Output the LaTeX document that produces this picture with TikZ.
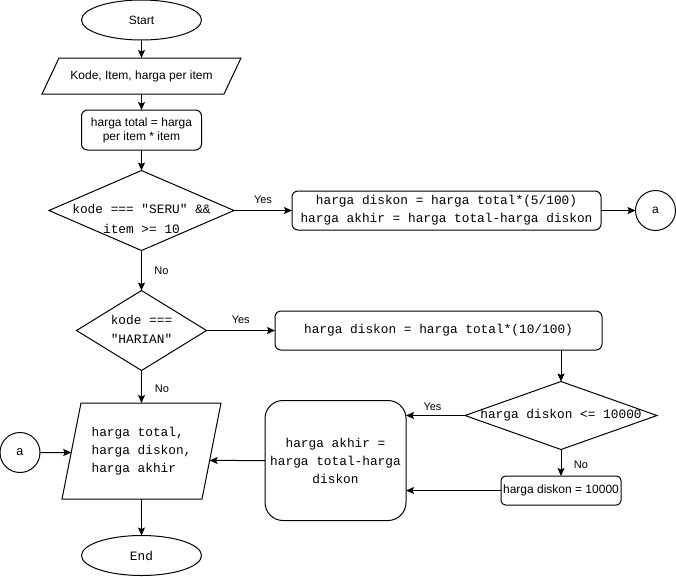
\documentclass[tikz,border=0pt]{standalone}
\usepackage{fontspec}
\setmainfont{Liberation Sans}
\newfontfamily\codefont{Liberation Mono}
\usetikzlibrary{shapes.geometric,arrows.meta,calc}

% parallelogram drawn around a (borderless) rectangle node; #2 = half of the slant
\newcommand\slantoutline[2]{%
  \coordinate (#1-bl) at ($(#1.south west)+(-#2,0)$);
  \coordinate (#1-tl) at ($(#1.north west)+(#2,0)$);
  \coordinate (#1-tr) at ($(#1.north east)+(#2,0)$);
  \coordinate (#1-br) at ($(#1.south east)+(-#2,0)$);
  \draw[shapeline] (#1-bl) -- (#1-tl) -- (#1-tr) -- (#1-br) -- cycle;}

\begin{document}
\begin{tikzpicture}[x=1pt,y=-1pt,
  every node/.style={inner sep=0pt, outer sep=0pt},
  shapeline/.style={draw=black, line width=1pt},
  sanstext/.style={font=\fontsize{12}{14}\selectfont, align=center},
  code/.style={font=\codefont\fontsize{12.8}{18}\selectfont, align=center},
  terminal/.style={shapeline, ellipse, minimum width=120pt, minimum height=40pt},
  io/.style={draw=none, rectangle},
  proc/.style={shapeline, rectangle, rounded corners=6pt},
  decision/.style={shapeline, diamond},
  connector/.style={shapeline, circle, minimum size=40pt},
  flow/.style={line width=1pt, -{Stealth[length=8pt,width=7pt,inset=1.5pt]}},
  edgelabel/.style={font=\fontsize{11}{13}\selectfont},
]
\useasboundingbox (0,0) rectangle (676,576);

% --- nodes ---
\node[terminal, sanstext] (start) at (141.5,20) {Start};

\node[io, sanstext, minimum width=182pt, minimum height=36pt] (input) at (141.5,76) {Kode, Item, harga per item};
\slantoutline{input}{8.5}

\node[proc, sanstext, minimum width=120pt, minimum height=40pt] (total) at (141.5,130) {harga total = harga\\per item * item};

\node[decision, minimum width=185pt, minimum height=80pt] (seru) at (141.5,210.5) {};
\node[code, font=\codefont\fontsize{12.8}{20}\selectfont] (serutext) at (141.5,219) {kode === "SERU" \&\&\\item >= 10};

\node[proc, code, minimum width=309pt, minimum height=39pt] (diskon5) at (446.5,210.5) {harga diskon = harga total*(5/100)\\harga akhir = harga total-harga diskon};

\node[connector, sanstext] (aout) at (655.5,210.5) {a};

\node[decision, minimum width=130pt, minimum height=80pt] (harian) at (141.5,330.5) {};
\node[code, font=\codefont\fontsize{12.8}{19}\selectfont] (hariantext) at (141.5,329.5) {kode ===\\"HARIAN"};

\node[proc, code, minimum width=327pt, minimum height=39pt] (diskon10) at (438.5,330.5) {harga diskon = harga total*(10/100)};

\node[decision, minimum width=192pt, minimum height=68pt] (batas) at (561,415.5) {};
\node[code] (batastext) at (561,415.5) {harga diskon <= 10000};

\node[proc, sanstext, rounded corners=4.5pt, minimum width=120pt, minimum height=29pt] (maks) at (561,490.5) {harga diskon = 10000};

\node[proc, code, rounded corners=18pt, minimum width=141pt, minimum height=120pt] (akhir) at (335.5,460.5) {harga akhir =\\harga total-harga\\diskon};

\node[io, code, align=left, minimum width=140pt, minimum height=96pt] (output) at (141.5,451) {harga total,\\harga diskon,\\harga akhir};
\slantoutline{output}{9.5}

\node[connector, code] (ain) at (20,452.5) {a};

\node[terminal, code] (end) at (141.5,555.5) {End};

% --- connectors ---
\draw[flow] (start) -- (input-tl -| start);
\draw[flow] (input-bl -| start) -- (total);
\draw[flow] (total) -- (seru);
\draw[flow] (seru.east) -- node[edgelabel, yshift=10.5pt] {Yes} (diskon5.west);
\draw[flow] (diskon5.east) -- (aout.west);
\draw[flow] (seru.south) -- node[edgelabel, xshift=20pt] {No} (harian.north);
\draw[flow] (harian.east) -- node[edgelabel, yshift=10.5pt] {Yes} (diskon10.west);
\draw[flow] (harian.south) -- node[edgelabel, xshift=20.5pt, yshift=-2pt] {No} (output-tl -| harian);
\draw[flow] (diskon10.south -| batas.north) -- (batas.north);
\draw[flow] (batas.west) -- node[edgelabel, xshift=-3pt, yshift=8.5pt] {Yes} (batas.west -| akhir.east);
\draw[flow] (batas.south) -- node[edgelabel, xshift=20pt, yshift=-2pt] {No} (maks.north);
\draw[flow] (maks.west) -- (maks.west -| akhir.east);
\coordinate (akhirlevel) at (akhir.west -| output.center);
\draw[flow] (akhir.west) -- (intersection of output-tr--output-br and akhir.west--akhirlevel);
\coordinate (ainlevel) at (ain.east -| output.center);
\draw[flow] (ain.east) -- (intersection of output-tl--output-bl and ain.east--ainlevel);
\draw[flow] (output-bl -| end) -- (end.north);
\end{tikzpicture}
\end{document}
